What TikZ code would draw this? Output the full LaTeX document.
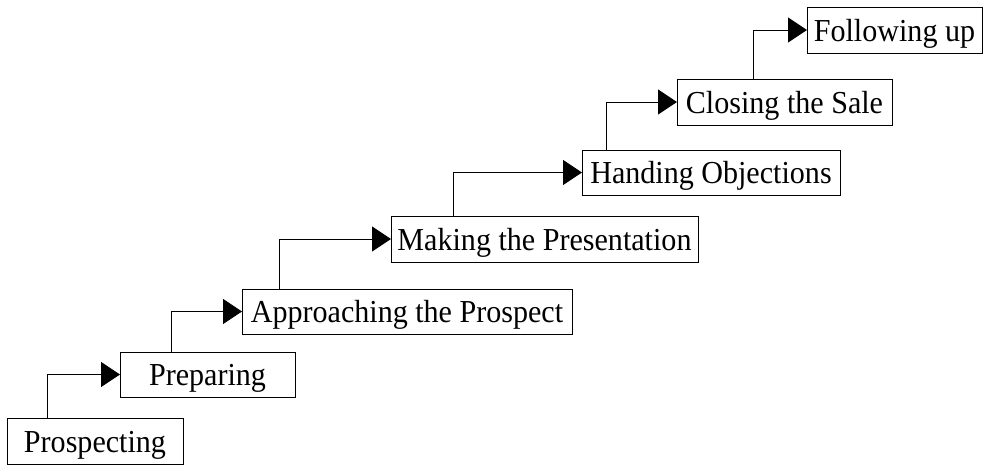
\documentclass[tikz,border=0pt]{standalone}
\usepackage{fontspec}
\setmainfont{Liberation Serif}[FakeStretch=0.94]
\usetikzlibrary{arrows.meta}
\begin{document}
\begin{tikzpicture}[x=1pt,y=-1pt,
  stage/.style={draw=black, line width=1pt, inner sep=0pt, outer sep=0pt,
    text height=22pt, text depth=0pt,
    font=\fontsize{32}{38}\selectfont, anchor=north west},
  link/.style={draw=black, line width=1pt,
    -{Triangle[length=19pt,width=25pt]}}]
  \useasboundingbox (0,0) rectangle (984,466);
  % the seven steps, climbing from lower left to upper right
  \node[stage, minimum width=176pt, minimum height=46pt] (s1) at (7,418) {Prospecting};
  \node[stage, minimum width=175pt, minimum height=45pt] (s2) at (120,352) {Preparing};
  \node[stage, minimum width=330pt, minimum height=45pt] (s3) at (242,289) {Approaching the Prospect};
  \node[stage, minimum width=307pt, minimum height=46pt] (s4) at (391,216) {Making the Presentation};
  \node[stage, minimum width=258pt, minimum height=45pt] (s5) at (582,150) {Handing Objections};
  \node[stage, minimum width=215pt, minimum height=46pt] (s6) at (677,79) {Closing the Sale};
  \node[stage, minimum width=175pt, minimum height=46pt] (s7) at (807,7) {Following up};
  % elbow connectors: up from each step, then right into the next
  \draw[link] ([xshift=40pt]s1.north west) |- (s2.west);
  \draw[link] ([xshift=51pt]s2.north west) |- (s3.west);
  \draw[link] ([xshift=37pt]s3.north west) |- (s4.west);
  \draw[link] ([xshift=62pt]s4.north west) |- (s5.west);
  \draw[link] ([xshift=24pt]s5.north west) |- (s6.west);
  \draw[link] ([xshift=76pt]s6.north west) |- (s7.west);
\end{tikzpicture}
\end{document}
